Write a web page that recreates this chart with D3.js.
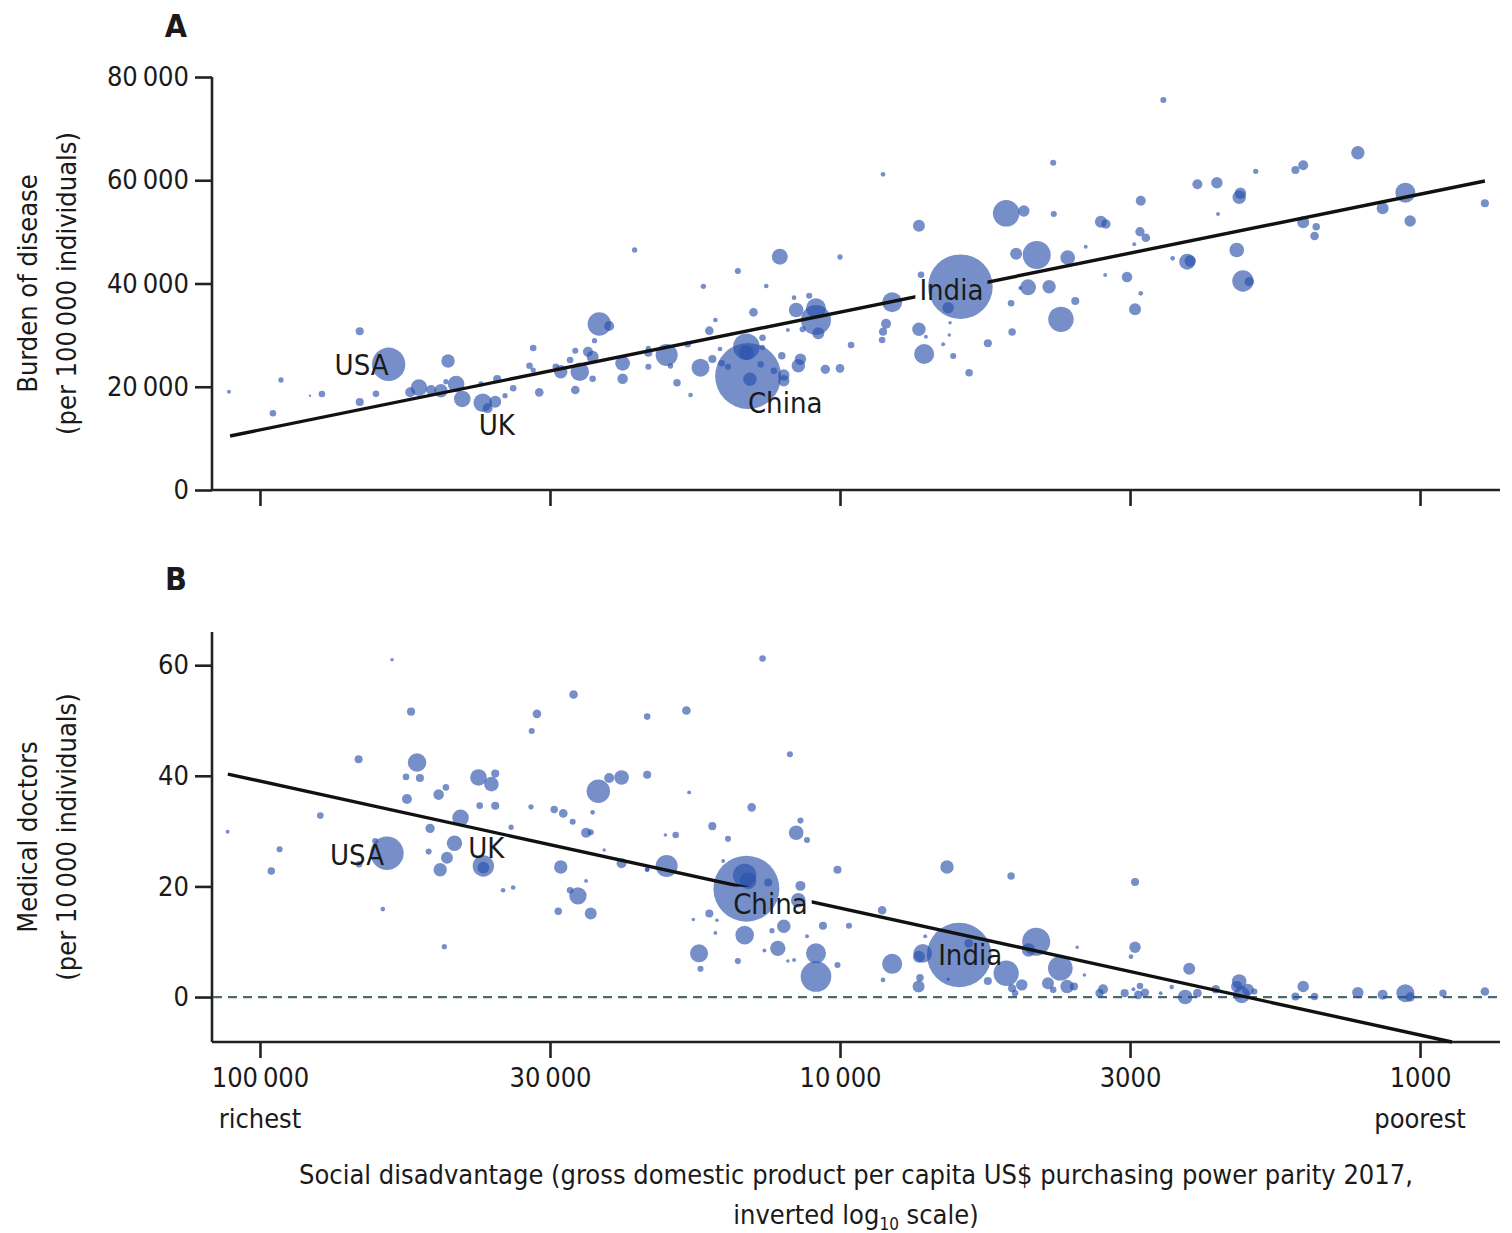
<!DOCTYPE html>
<html>
<head>
<meta charset="utf-8">
<script src="https://cdn.jsdelivr.net/npm/d3@7"></script>
<style>
  body { margin: 0; background: #fff; }
  svg text { font-family: "Liberation Sans Narrow", "DejaVu Sans Condensed", "Open Sans", sans-serif; fill: #1a1a1a; }
</style>
</head>
<body>
<svg id="chart" width="1512" height="1233"></svg>
<script>
// each row: [GDP per capita (US$ PPP 2017), value, population (millions)]
const burden = [
  [113100,19040,5],[92000,21310,9],[95000,14860,14],[82000,18270,2],[78200,18600,14],[67300,30740,21],[67300,17050,21],
  [60000,24350,358],[63100,18650,14],[55100,18920,32],[53200,19820,89],[50700,19370,32],[48750,19230,58],[47400,24990,58],
  [45900,20530,89],[44800,17630,89],[47800,20980,9],[41300,16910,111],[39300,17100,46],[40500,15830,32],[39000,21500,21],
  [37800,18270,9],[36600,19700,14],[41600,20530,9],[33000,18920,24],[33800,27510,14],[34300,24080,14],[30300,22910,58],
  [28600,26980,12],[28100,22910,111],[28600,19370,24],[27200,26790,32],[26700,25820,46],[26700,21560,14],[26000,32150,176],
  [25000,31770,32],[26500,28920,9],[23700,24540,69],[23700,21560,36],[22600,46490,9],[21400,23880,12],[21400,27450,9],
  [29200,25180,14],[30900,23880,14],[33800,23240,9],
  [8430,61150,7],[4290,63400,12],[5170,53600,227],[4820,54040,42],[4280,53460,12],[7310,51190,46],[12700,45190,82],
  [10000,45130,9],[15000,42420,12],[17200,39460,9],[13400,39510,7],[4580,45520,252],[4970,45770,46],[4050,45000,69],
  [6200,39380,1340],[7250,41700,14],[8130,36360,129],[8330,32210,32],[8430,30660,21],[8460,29060,14],[7310,31130,58],
  [7110,29690,5],[7160,26340,129],[6510,35310,42],[6460,32410,4],[6480,30020,4],[6640,28220,5],[6380,25960,12],
  [5990,22720,18],[5560,28420,21],[5050,30600,18],[5070,36160,14],[4740,39260,82],[4360,39380,58],[4160,33060,207],
  [3930,36610,21],[4890,39130,5],
  [14400,22080,1400],[14500,27760,227],[14500,26600,69],[14300,21440,58],[11900,34870,69],[11000,32930,289],[11000,35200,129],
  [10900,30350,46],[14100,34420,24],[12000,37250,7],[11300,37640,12],[11600,31130,12],[12300,30990,5],[13600,29500,14],
  [16800,30860,24],[16400,32930,7],[19900,26150,156],[21400,26600,21],[19600,24020,9],[18300,28220,14],[17400,23690,104],
  [19100,20780,18],[18100,18400,7],[16600,25370,21],[16000,24540,14],[15600,23880,12],[13700,24350,14],[12600,26010,18],
  [11700,25320,42],[11800,24080,58],[12500,22280,42],[12500,21170,42],[13000,23110,14],[10600,23380,28],[10000,23570,24],
  [9570,28090,14],[16100,27310,7],[13600,27640,9],
  [2770,75540,12],[1280,65330,58],[1590,62890,32],[1640,61980,21],[1920,61730,9],[2420,59210,32],[2240,59520,42],
  [2040,57470,42],[2050,56700,58],[2230,53460,5],[3030,56040,32],[3550,51970,46],[3480,51520,28],[3770,47130,5],
  [3040,50030,28],[2970,48870,24],[3110,47590,5],[1060,57590,129],[1160,54560,46],[1040,52100,42],[773,55530,21],
  [1590,51850,46],[1510,51000,18],[1520,49200,24],[2070,46490,69],[2520,44220,82],[2490,44360,42],[2670,44880,7],
  [2020,40480,147],[1970,40350,28],[3200,41260,36],[3490,41650,5],[3030,38100,7],[3100,35000,46]
];

const doctors = [
  [113700,29.9,5],[92500,26.7,12],[95600,22.8,18],[78700,32.8,14],[67600,43.0,21],[59200,61.0,4],[61400,15.9,7],
  [60400,26.0,358],[63300,28.2,12],[67500,24.0,14],[54900,51.6,21],[53600,42.4,111],[56000,39.8,14],[53000,39.6,21],
  [55800,35.8,32],[49200,36.6,36],[47800,37.9,14],[50900,30.5,28],[51200,26.3,12],[47600,25.2,46],[48900,23.0,58],
  [46200,27.8,76],[45100,32.4,89],[42000,39.7,89],[39900,38.5,69],[39300,40.4,21],[41800,34.6,14],[39300,34.6,21],
  [41200,23.7,147],[41200,23.4,46],[36900,30.7,9],[38100,19.3,7],[36600,19.8,7],[48100,9.1,9],[34100,34.4,9],
  [33300,51.2,24],[34000,48.1,12],[28800,54.7,24],[31100,33.9,18],[30000,33.2,24],[28900,31.7,12],[26700,33.4,7],
  [26100,37.2,176],[25000,39.6,32],[23800,39.7,69],[21500,40.2,21],[21500,50.7,14],[27400,29.7,32],[26900,29.8,12],
  [25500,26.6,4],[30300,23.5,58],[23800,24.2,32],[21500,23.1,7],[27400,21.0,5],[28300,18.3,97],[29200,19.3,14],
  [30600,15.5,18],[26900,15.1,46],
  [13600,61.2,14],[18400,51.8,24],[12200,43.9,12],[18200,37.0,5],[14200,34.3,24],[16600,30.9,21],[19200,29.3,14],
  [20000,29.3,4],[15600,28.6,12],[11900,29.7,69],[11700,31.9,12],[11400,28.4,12],[19900,23.7,156],[21500,23.0,7],
  [14500,19.6,1400],[14600,22.0,176],[14400,21.0,89],[13300,20.7,21],[15900,24.6,5],[11700,20.1,32],[10100,23.0,21],
  [6540,23.5,58],[5070,21.9,18],[8460,15.7,24],[16800,15.1,21],[17900,14.0,4],[16300,13.9,4],[16400,11.6,5],
  [14600,11.2,111],[12500,12.8,58],[13100,12.0,9],[11800,17.5,69],[10700,12.9,21],[9650,12.9,12],[11400,11.0,5],
  [17500,7.9,104],[17400,5.1,12],[15000,6.5,12],[13500,8.4,5],[12800,8.8,76],[12300,6.5,4],[12000,6.7,5],
  [11000,7.9,129],[11000,3.7,301],[10100,5.8,12],[8130,6.0,129],[8430,3.1,7],[7130,11.0,5],[7200,7.9,111],
  [7310,7.3,46],[6230,7.6,1340],[6000,9.7,24],[7280,3.5,18],[7320,1.9,46],[6510,3.2,4],[5560,2.9,21],
  [5170,4.3,207],[5050,1.6,21],[4860,2.2,42],[4590,10.0,252],[4730,8.5,58],[4170,5.2,195],[4380,2.5,46],
  [4290,1.3,14],[4060,1.9,58],[3950,1.9,21],[3900,9.0,4],[4990,0.7,14],
  [3100,20.8,21],[3100,9.0,42],[3150,7.3,7],[3790,4.0,4],[3520,1.4,32],[3570,0.7,21],[3230,0.7,21],
  [3040,2.0,14],[3060,0.4,24],[2980,0.8,21],[3120,1.4,5],[2800,0.7,5],[2680,1.8,7],[2500,5.1,46],
  [2540,0.0,69],[2420,0.7,24],[2250,1.4,24],[2050,2.8,69],[2070,1.9,42],[1980,1.3,46],[2030,0.4,89],
  [1930,1.0,12],[1590,1.9,42],[1640,0.1,21],[1520,0.1,18],[1280,0.8,42],[1160,0.4,32],[1060,0.7,104],
  [1040,0.0,28],[913,0.7,18],[773,1.0,24]
];

// fitted lines, end points [gdp, value]
const trendBurden = [[112600, 10460], [773, 59850]];
const trendDoctors = [[113600, 40.3], [881, -8.13]];

const xTicks = [100000, 31623, 10000, 3162, 1000];
const xTickLabels = ["100\u2009000", "30\u2009000", "10\u2009000", "3000", "1000"];
const burdenTicks = [0, 20000, 40000, 60000, 80000];
const doctorTicks = [0, 20, 40, 60];

// country names: [name, gdp, value, dx, dy, cuts the line]
const burdenNames = [["USA", 60000, 24350, -27, 1, false], ["UK", 41300, 16910, 14, 22, false],
                     ["China", 14400, 22080, 37, 27, false], ["India", 6200, 39380, -9, 3, true]];
const doctorNames = [["USA", 60400, 26.0, -30, 2, false], ["UK", 41200, 23.7, 3, -18, false],
                     ["China", 14500, 19.6, 24, 15, true], ["India", 6230, 7.6, 11, 0, false]];

const svg = d3.select("#chart");
const fmt = d3.format(",");

const x = d3.scaleLog().domain([120500, 728]).range([213, 1500]);
const r = d3.scaleSqrt().domain([0, 1400]).range([0, 33]);

function panel(opts) {
    const { data, trend, names, y, ticks, tickFmt, id, letter, letterY, titles, xLabels } = opts;
    const g = svg.append("g");
    const [y0, y1] = y.range();

    // y axis
    const yAxis = g.append("g")
        .attr("transform", "translate(212,0)")
        .call(d3.axisLeft(y).tickValues(ticks).tickSize(17).tickPadding(6).tickFormat(tickFmt));
    yAxis.select(".domain").attr("d", `M0,${y1}V${y0}`);

    // x axis
    const xAxis = g.append("g")
        .attr("transform", `translate(0,${y0})`)
        .call(d3.axisBottom(x).tickValues(xTicks).tickSize(16).tickPadding(10)
            .tickFormat((d, i) => xLabels ? xTickLabels[i] : ""));
    xAxis.select(".domain").attr("d", "M212,0H1500");

    g.selectAll(".domain").attr("stroke", "#222").attr("stroke-width", 2.6);
    g.selectAll(".tick line").attr("stroke", "#222").attr("stroke-width", 2.6);
    g.selectAll(".tick text").attr("font-size", 27).attr("fill", "#1a1a1a");

    if (opts.zeroLine) {
        g.append("line")
            .attr("x1", 213).attr("x2", 1500)
            .attr("y1", y(0)).attr("y2", y(0))
            .attr("stroke", "#4b6b6b").attr("stroke-width", 2.2)
            .attr("stroke-dasharray", "9,6");
    }

    // bubbles
    g.append("g").selectAll("circle")
        .data(data.slice().sort((a, b) => b[2] - a[2]))
        .join("circle")
        .attr("cx", d => x(d[0]))
        .attr("cy", d => y(d[1]))
        .attr("r", d => r(d[2]))
        .attr("fill", "#2850aa")
        .attr("fill-opacity", 0.64);

    // names
    const lab = g.append("g").selectAll("text")
        .data(names)
        .join("text")
        .attr("x", d => x(d[1]) + d[3])
        .attr("y", d => y(d[2]) + d[4])
        .attr("text-anchor", "middle")
        .attr("dominant-baseline", "central")
        .attr("font-size", 29)
        .attr("font-weight", 500)
        .text(d => d[0]);

    // trend line, with a gap where it crosses a name
    const mask = svg.append("defs").append("mask").attr("id", id)
        .attr("maskUnits", "userSpaceOnUse").attr("x", 0).attr("y", 0).attr("width", 1512).attr("height", 1233);
    mask.append("rect").attr("width", 1512).attr("height", 1233).attr("fill", "#fff");
    lab.filter(d => d[5]).each(function () {
        const b = this.getBBox();
        mask.append("rect").attr("x", b.x - 4).attr("y", b.y).attr("width", b.width + 8)
            .attr("height", b.height).attr("fill", "#000");
    });
    g.append("path")
        .datum(trend)
        .attr("d", d3.line().x(d => x(d[0])).y(d => y(d[1])))
        .attr("stroke", "#111").attr("stroke-width", 3.4).attr("fill", "none")
        .attr("mask", `url(#${id})`);

    g.append("text")
        .attr("x", 176).attr("y", letterY)
        .attr("text-anchor", "middle")
        .attr("font-size", 32).attr("font-weight", 700)
        .text(letter);

    const cy = (y0 + y1) / 2 + opts.titleShift;
    titles.forEach((t, i) => {
        g.append("text")
            .attr("transform", `translate(${37 + i * 39},${cy}) rotate(-90)`)
            .attr("text-anchor", "middle")
            .attr("font-size", 27)
            .text(t);
    });
}

panel({
    data: burden, trend: trendBurden, names: burdenNames,
    y: d3.scaleLinear().domain([0, 80000]).range([490, 77]),
    ticks: burdenTicks, tickFmt: d => d === 0 ? "0" : fmt(d).replace(",", "\u2009"),
    id: "cutA", letter: "A", letterY: 37, titleShift: 0,
    titles: ["Burden of disease", "(per 100\u2009000 individuals)"], xLabels: false
});

panel({
    data: doctors, trend: trendDoctors, names: doctorNames,
    y: d3.scaleLinear().domain([-8.13, 66]).range([1042, 632]),
    ticks: doctorTicks, tickFmt: d => d,
    id: "cutB", letter: "B", letterY: 590, titleShift: 0,
    titles: ["Medical doctors", "(per 10\u2009000 individuals)"], xLabels: true, zeroLine: true
});

// ends of the x axis and its title
svg.append("text").attr("x", x(100000)).attr("y", 1128).attr("text-anchor", "middle")
    .attr("font-size", 27).text("richest");
svg.append("text").attr("x", x(1000)).attr("y", 1128).attr("text-anchor", "middle")
    .attr("font-size", 27).text("poorest");

const title = svg.append("g").attr("font-size", 27).attr("text-anchor", "middle");
title.append("text").attr("x", 856).attr("y", 1184)
    .text("Social disadvantage (gross domestic product per capita US$ purchasing power parity 2017,");
const t2 = title.append("text").attr("x", 856).attr("y", 1224);
t2.append("tspan").text("inverted log");
t2.append("tspan").attr("font-size", 17).attr("dy", 6).text("10");
t2.append("tspan").attr("dy", -6).text(" scale)");
</script>
</body>
</html>
